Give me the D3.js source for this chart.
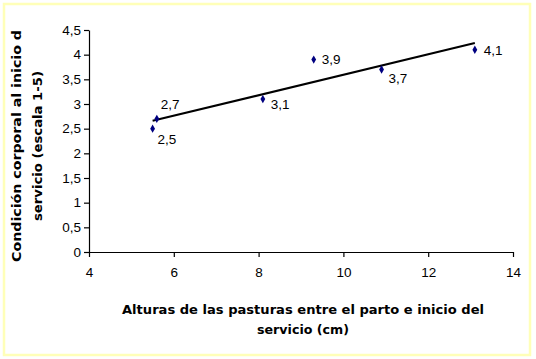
<!DOCTYPE html>
<html><head><meta charset="utf-8">
<script src="https://cdn.jsdelivr.net/npm/d3@7"></script>
<style>body{margin:0;background:#fff}svg{display:block}</style>
</head><body>
<script>
const xValues = [5.5, 5.6, 8.1, 9.3, 10.9, 13.1];
const yValues = [2.5, 2.7, 3.1, 3.9, 3.7, 4.1];
const pointLabels = ["2,5", "2,7", "3,1", "3,9", "3,7", "4,1"];
const labelOffsets = [[5, 15], [4, -10], [8, 10], [8, 4], [7, 14], [9, 5]];
const xTicks = [4, 6, 8, 10, 12, 14];
const yTicks = [0, 0.5, 1, 1.5, 2, 2.5, 3, 3.5, 4, 4.5];
const xTitle = ["Alturas de las pasturas entre el parto e inicio del", "servicio (cm)"];
const yTitle = ["Condición corporal al inicio d", "servicio (escala 1-5)"];

const W = 536, H = 359;
const svg = d3.select("body").append("svg").attr("width", W).attr("height", H);
svg.append("rect").attr("x", 4).attr("y", 4).attr("width", 526).attr("height", 351)
  .attr("fill", "#fff").attr("stroke", "#ffffb8").attr("stroke-width", 2.5);

const x = d3.scaleLinear().domain([4, 14]).range([89, 513]);
const y = d3.scaleLinear().domain([0, 4.5]).range([252, 30]);
const fmt = d => String(d).replace(".", ",");

const gx = svg.append("g").attr("transform", "translate(0,252)")
  .call(d3.axisBottom(x).tickValues(xTicks).tickFormat(fmt).tickSize(5).tickSizeOuter(0));
const gy = svg.append("g").attr("transform", "translate(89,0)")
  .call(d3.axisLeft(y).tickValues(yTicks).tickFormat(fmt).tickSize(5).tickSizeOuter(0));
[gx, gy].forEach(g => {
  g.selectAll("path,line").attr("stroke", "#000").attr("stroke-width", 1.2);
  g.selectAll("text").attr("font-family", "Liberation Sans, Arial, sans-serif")
    .attr("font-size", 13.5).attr("fill", "#000");
});
gx.selectAll("text").attr("dy", "1.25em");
gy.selectAll("text").attr("x", -8);

// trend line (least squares from the data)
const n = xValues.length;
const mx = d3.mean(xValues), my = d3.mean(yValues);
let sxy = 0, sxx = 0;
for (let i = 0; i < n; i++) { sxy += (xValues[i]-mx)*(yValues[i]-my); sxx += (xValues[i]-mx)**2; }
const slope = sxy / sxx, icpt = my - slope * mx;
const x0 = d3.min(xValues), x1 = d3.max(xValues);
svg.append("line").attr("x1", x(x0)).attr("y1", y(icpt + slope*x0))
  .attr("x2", x(x1)).attr("y2", y(icpt + slope*x1))
  .attr("stroke", "#000").attr("stroke-width", 2);

const sym = d3.symbol().type(d3.symbolDiamond).size(20);
xValues.forEach((xv, i) => {
  svg.append("path").attr("d", sym).attr("fill", "#000080")
    .attr("transform", `translate(${x(xv)},${y(yValues[i])})`);
  svg.append("text").attr("x", x(xv) + labelOffsets[i][0]).attr("y", y(yValues[i]) + labelOffsets[i][1])
    .attr("font-family", "Liberation Sans, Arial, sans-serif").attr("font-size", 13.5)
    .attr("fill", "#000").text(pointLabels[i]);
});

const tf = "DejaVu Sans, Verdana, sans-serif";
svg.append("text").attr("x", 303).attr("y", 314).attr("text-anchor", "middle")
  .attr("font-family", tf).attr("font-weight", "bold").attr("font-size", 12)
  .attr("textLength", 362).attr("lengthAdjust", "spacingAndGlyphs").text(xTitle[0]);
svg.append("text").attr("x", 303).attr("y", 334).attr("text-anchor", "middle")
  .attr("font-family", tf).attr("font-weight", "bold").attr("font-size", 12)
  .attr("textLength", 92).attr("lengthAdjust", "spacingAndGlyphs").text(xTitle[1]);

svg.append("text").attr("transform", "translate(21,146) rotate(-90)").attr("text-anchor", "middle")
  .attr("font-family", tf).attr("font-weight", "bold").attr("font-size", 12)
  .attr("textLength", 232).attr("lengthAdjust", "spacingAndGlyphs").text(yTitle[0]);
svg.append("text").attr("transform", "translate(42,146) rotate(-90)").attr("text-anchor", "middle")
  .attr("font-family", tf).attr("font-weight", "bold").attr("font-size", 12)
  .attr("textLength", 150).attr("lengthAdjust", "spacingAndGlyphs").text(yTitle[1]);
</script>
</body></html>
